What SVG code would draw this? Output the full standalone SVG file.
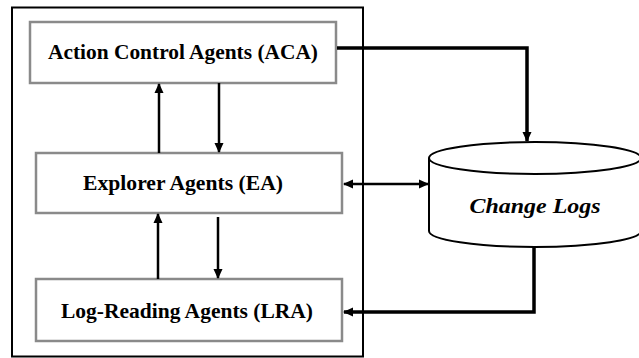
<svg xmlns="http://www.w3.org/2000/svg" width="639" height="358" viewBox="0 0 639 358">
<style>
.box{fill:#fff;stroke:#8a8a8a;stroke-width:2.5}
.lbl{font-family:"Liberation Serif",serif;font-weight:bold;font-size:21px;fill:#000;text-anchor:middle}
.c{fill:none;stroke:#000;stroke-width:2.5}
.t{fill:none;stroke:#000;stroke-width:3.5}
</style>
<defs>
<marker id="ah" viewBox="0 0 10 10" refX="9" refY="5" markerWidth="10" markerHeight="10" markerUnits="userSpaceOnUse" orient="auto-start-reverse">
<path d="M0,0.5 L10,5 L0,9.5 z" fill="#000"/>
</marker>
</defs>
<rect x="0" y="0" width="639" height="358" fill="#fff"/>
<g id="container"><rect x="12" y="7.5" width="351" height="349" fill="none" stroke="#000" stroke-width="2"/></g>
<g id="aca"><rect class="box" x="30" y="22" width="306" height="61"/><text class="lbl" x="183" y="59" textLength="270" lengthAdjust="spacingAndGlyphs">Action Control Agents (ACA)</text></g>
<g id="ea"><rect class="box" x="36" y="153" width="306" height="60"/><text class="lbl" x="183" y="190" textLength="200" lengthAdjust="spacingAndGlyphs">Explorer Agents (EA)</text></g>
<g id="lra"><rect class="box" x="36" y="279" width="306" height="62"/><text class="lbl" x="187" y="318" textLength="252" lengthAdjust="spacingAndGlyphs">Log-Reading Agents (LRA)</text></g>
<g id="changelogs">
<path d="M429,158 L429,231 A106,16 0 0 0 641,231 L641,158" fill="#fff" stroke="#000" stroke-width="2"/>
<ellipse cx="535" cy="158" rx="106" ry="16" fill="#fff" stroke="#000" stroke-width="2"/>
<text x="535" y="213" font-family="Liberation Serif,serif" font-style="italic" font-weight="bold" font-size="21" text-anchor="middle" textLength="131" lengthAdjust="spacingAndGlyphs">Change Logs</text>
</g>
<g id="connectors">
<line class="c" x1="159" y1="153" x2="159" y2="84" marker-end="url(#ah)"/>
<line class="c" x1="219" y1="83" x2="219" y2="152" marker-end="url(#ah)"/>
<line class="c" x1="158" y1="279" x2="158" y2="214" marker-end="url(#ah)"/>
<line class="c" x1="218" y1="217" x2="218" y2="278" marker-end="url(#ah)"/>
<polyline class="t" points="337,48 527,48 527,141" marker-end="url(#ah)"/>
<line class="c" x1="344" y1="184" x2="428" y2="184" marker-start="url(#ah)" marker-end="url(#ah)"/>
<polyline class="t" points="534,247 534,312 344,312" marker-end="url(#ah)"/>
</g>
</svg>
